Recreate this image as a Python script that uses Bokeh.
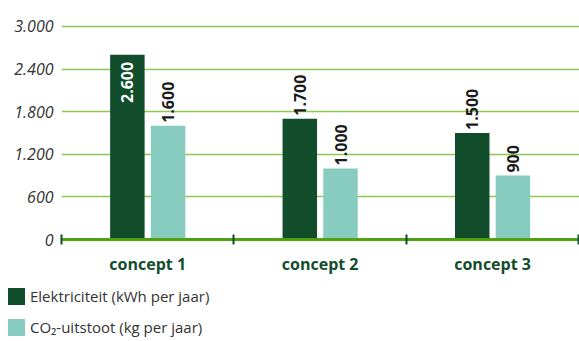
from bokeh.plotting import figure
from bokeh.layouts import column
from bokeh.models import Range1d, FixedTicker, ColumnDataSource, Div
from bokeh.core.properties import value
from bokeh.embed import file_html
from bokeh.resources import INLINE

# Data
categories = ["concept 1", "concept 2", "concept 3"]
elektriciteit = [2600, 1700, 1500]
co2 = [1600, 1000, 900]
y_ticks = [0, 600, 1200, 1800, 2400, 3000]
y_tick_labels = ["0", "600", "1.200", "1.800", "2.400", "3.000"]
series_names = ["Elektriciteit (kWh per jaar)", "CO\u2082-uitstoot (kg per jaar)"]

DARK = "#124d2b"
LIGHT = "#88ccc0"
GRID = "#8fc850"
AXIS = "#4ea20e"
FONT = "Open Sans"

def fmt(v):
    return f"{v:,}".replace(",", ".")

centers = [i + 0.5 for i in range(len(categories))]
off = 0.118
bw = 0.2

p = figure(width=579, height=286, output_backend="svg", toolbar_location=None,
           x_range=Range1d(0, 3.004), y_range=Range1d(0, 3140),
           min_border_left=61, min_border_right=0, min_border_top=16, min_border_bottom=47)
p.outline_line_color = None

# grid
p.xgrid.grid_line_color = None
p.ygrid.ticker = FixedTicker(ticks=y_ticks[1:])
p.ygrid.grid_line_color = GRID
p.ygrid.grid_line_width = 1.5

# y axis
p.yaxis.ticker = FixedTicker(ticks=y_ticks)
p.yaxis.major_label_overrides = {t: l for t, l in zip(y_ticks, y_tick_labels)}
p.yaxis.axis_line_color = None
p.yaxis.major_tick_line_color = None
p.yaxis.minor_tick_line_color = None
p.yaxis.major_label_text_font = FONT
p.yaxis.major_label_text_font_style = "italic"
p.yaxis.major_label_text_font_size = "16px"
p.yaxis.major_label_text_color = "#333333"
p.yaxis.major_label_standoff = 2

# x axis: category names centred, boundary marks as minor ticks
p.xaxis.ticker = FixedTicker(ticks=centers, minor_ticks=[0, 1, 2, 3])
p.xaxis.major_label_overrides = {c: n for c, n in zip(centers, categories)}
p.xaxis.axis_line_color = AXIS
p.xaxis.axis_line_width = 3
p.xaxis.major_tick_line_color = None
p.xaxis.minor_tick_line_color = DARK
p.xaxis.minor_tick_line_width = 2
p.xaxis.minor_tick_in = 5
p.xaxis.minor_tick_out = 5
p.xaxis.major_label_text_font = FONT
p.xaxis.major_label_text_font_style = "bold"
p.xaxis.major_label_text_font_size = "16px"
p.xaxis.major_label_text_color = DARK
p.xaxis.major_label_standoff = 7

src_e = ColumnDataSource(dict(x=[c - off for c in centers], top=elektriciteit))
src_c = ColumnDataSource(dict(x=[c + off for c in centers], top=co2))

p.vbar(x="x", top="top", width=bw, source=src_e, fill_color=DARK, line_color=None)
p.vbar(x="x", top="top", width=bw, source=src_c, fill_color=LIGHT, line_color=None)

# value labels: the tallest bar carries its label inside, the others above
inside = [i for i, v in enumerate(elektriciteit) if v >= 2400]
outside = [i for i in range(len(elektriciteit)) if i not in inside]
src_in = ColumnDataSource(dict(x=[src_e.data["x"][i] for i in inside],
                               y=[elektriciteit[i] for i in inside],
                               lab=[fmt(elektriciteit[i]) for i in inside]))
src_out = ColumnDataSource(dict(
    x=[src_e.data["x"][i] for i in outside] + src_c.data["x"],
    y=[elektriciteit[i] for i in outside] + co2,
    lab=[fmt(elektriciteit[i]) for i in outside] + [fmt(v) for v in co2]))

p.text(x="x", y="y", text="lab", source=src_in, angle=1.5708, text_align="right",
       text_baseline="middle", y_offset=7, text_color="white",
       text_font=value(FONT), text_font_style="bold", text_font_size="16px")
p.text(x="x", y="y", text="lab", source=src_out, angle=1.5708, text_align="left",
       text_baseline="middle", y_offset=-3, text_color="#1a1a1a",
       text_font=value(FONT), text_font_style="bold", text_font_size="16px")

# legend strip below the chart
swatches = [DARK, LIGHT]
rows = []
for i, (name, col) in enumerate(zip(series_names, swatches)):
    top = 2 + i * 31
    rows.append(
        f'<div style="position:absolute;left:8px;top:{top}px;width:17px;height:17px;'
        f'background:{col};"></div>'
        f'<div style="position:absolute;left:30px;top:{top - 2}px;line-height:21px;'
        f'white-space:nowrap;">{name}</div>')
legend_html = (f'<div style="position:relative;width:579px;height:55px;'
               f'font-family:\'{FONT}\';font-size:15px;color:#333333;">'
               + "".join(rows) + "</div>")
legend = Div(text=legend_html, width=579, height=55, margin=(0, 0, 0, 0))

open("out.html", "w").write(file_html(column(p, legend, spacing=0), INLINE))
